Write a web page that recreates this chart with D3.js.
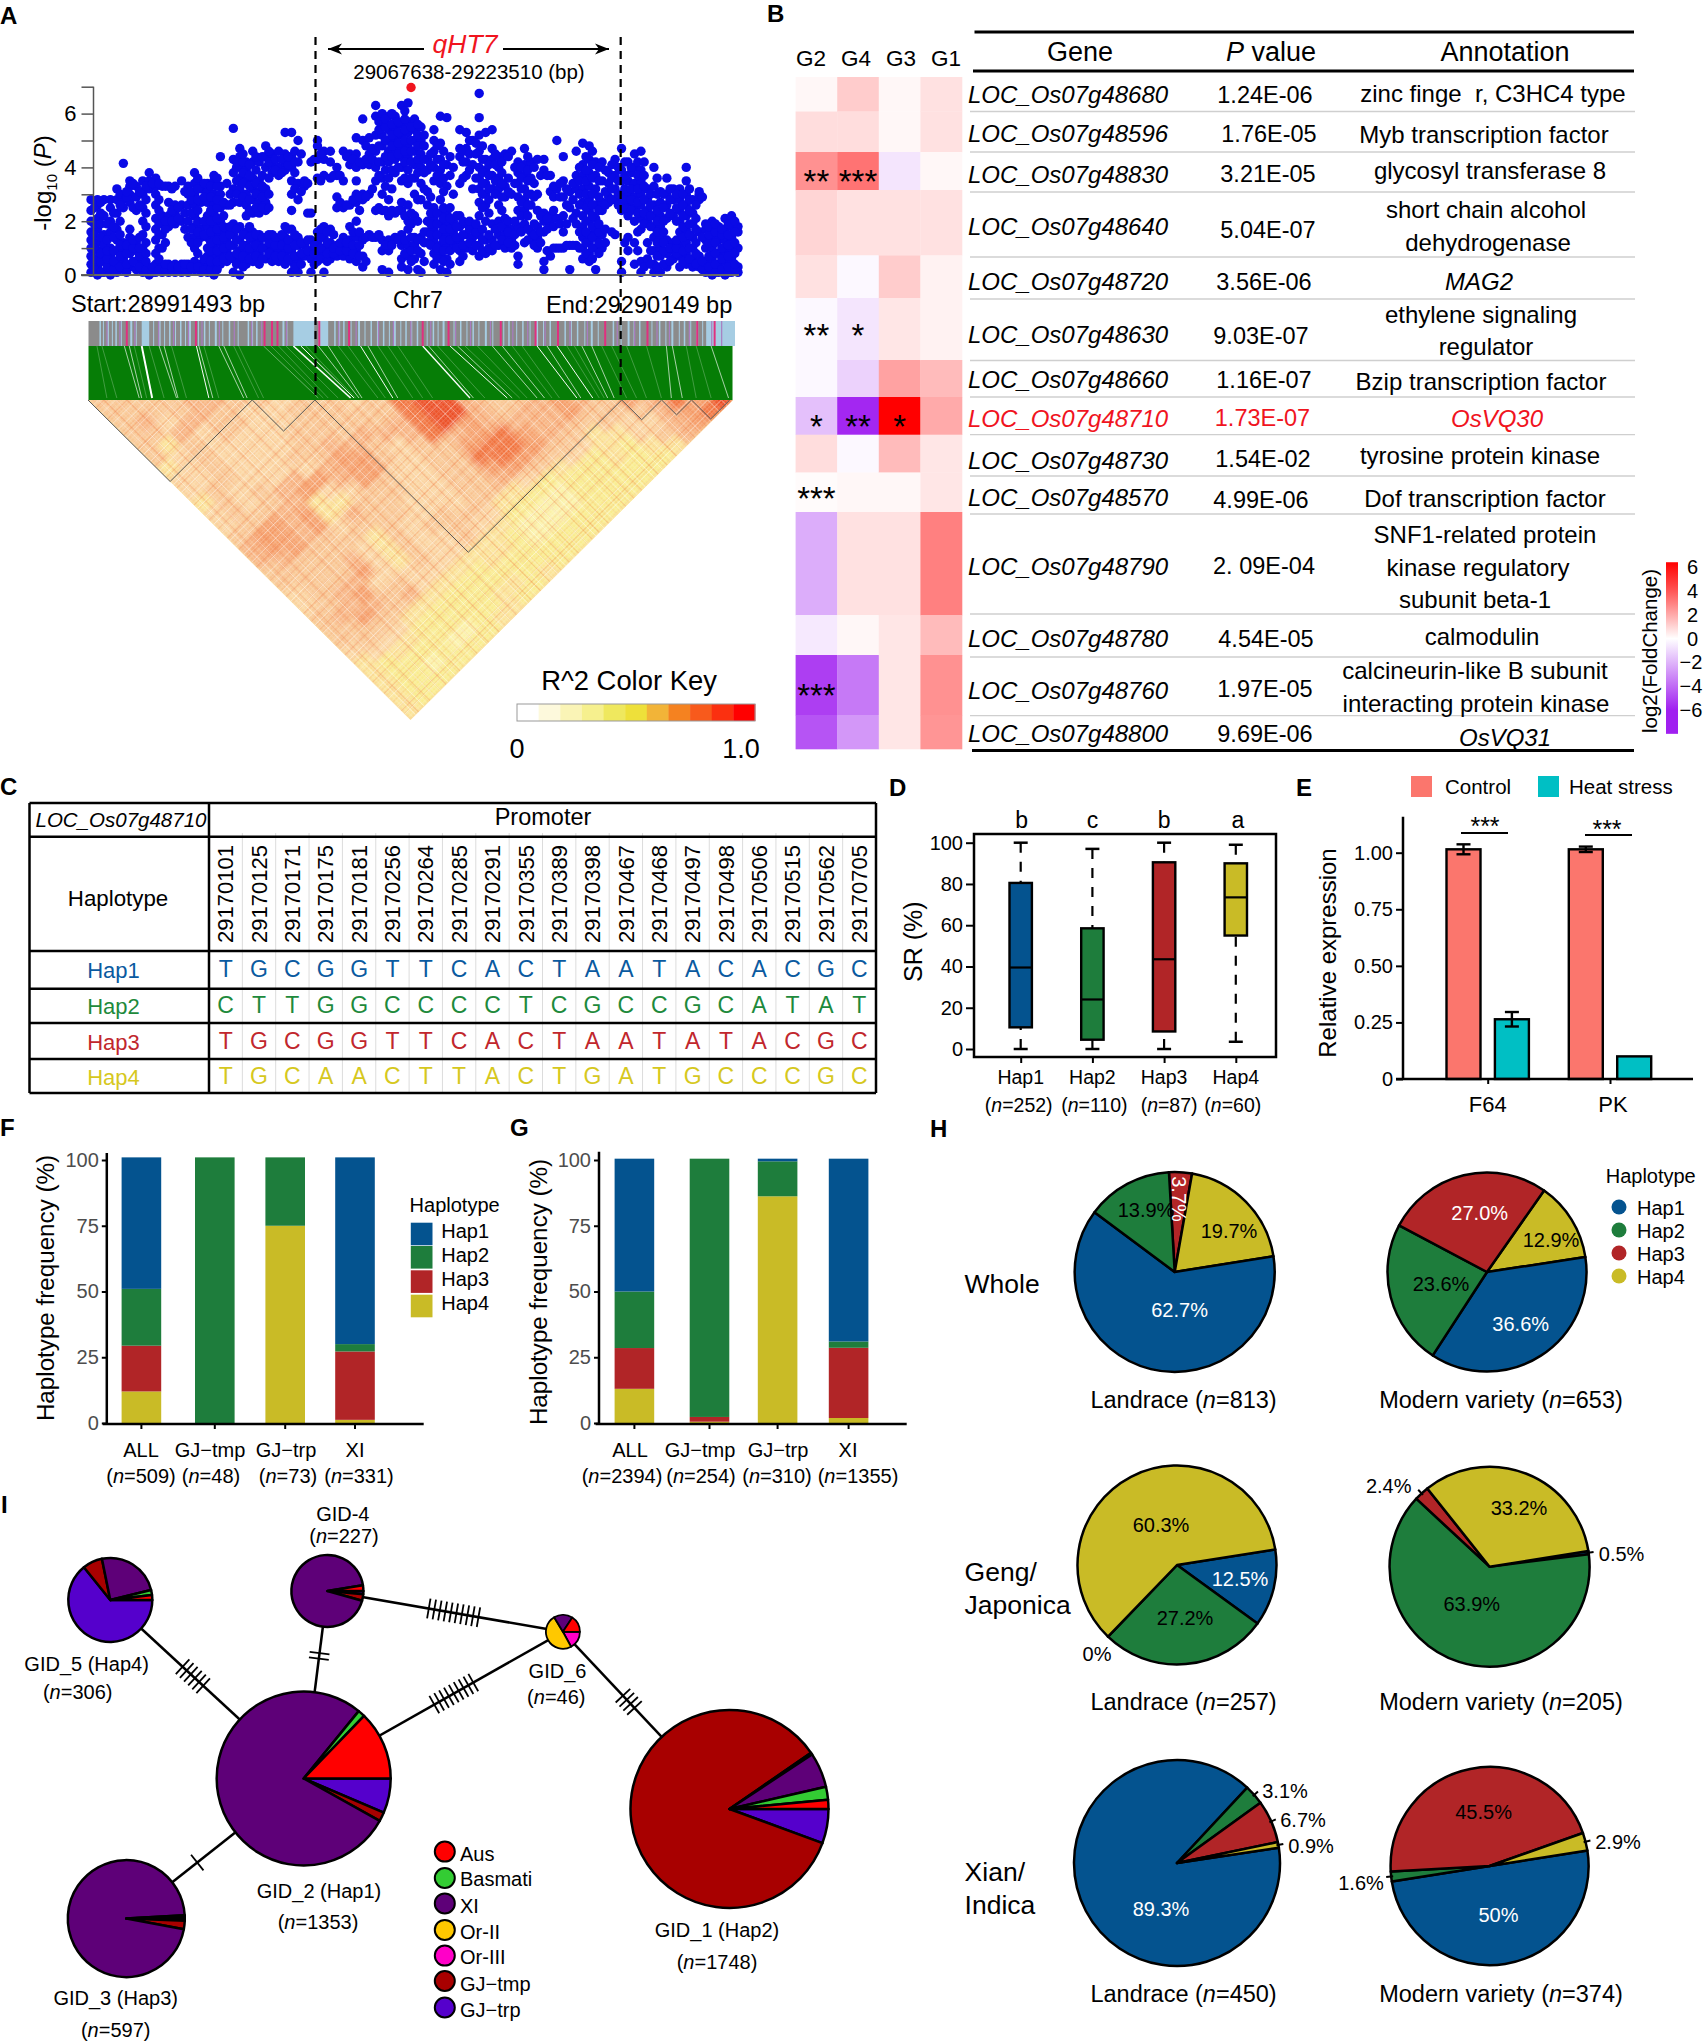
<!DOCTYPE html>
<html><head><meta charset="utf-8">
<script src="https://cdn.jsdelivr.net/npm/d3@7"></script>
<style>html,body{margin:0;padding:0;background:#fff}svg{display:block;font-family:"Liberation Sans",Arial,sans-serif}text{white-space:pre}</style>
</head><body><svg id="c" width="1705" height="2043" viewBox="0 0 1705 2043"></svg>
<script>
// ---------- DATA ----------
// A: association scan, -log10(P) read per 3 kb bin
const scanColumns=[[.1,.4,.7,1,1.3,1.6,2,2.4,2.8],[0,.3,.6,.9,1.2,1.7,2.1,2.6,2.8],[.1,.5,.8,1.1,1.5,2.2,2.8],[0,.4,.7,1,1.6,2,2.5,2.8],[.1,.5,.9,1.3,1.7,2.3,2.8,3.2],[.2,.6,.9,1.2,2.5,2.8,4.15],[.3,.8,1.1,1.4,1.7,2.7,3,3.3,3.5],[.2,.5,.9,1.2,2.4,2.9,3.3],[.1,.3,.6,1,1.5,2,2.5,3,3.1,3.5],[0,.2,3.2,3.5,3.8],[.1,.4,.8,1.3,1.7,2.1,2.6,3,3.3,3.6],[.1,.3,1,1.5,1.9,2.2,3.3],[.1,.4,1.8,2.2,2.7,3.3],[.1,.3,.4,1.9,2.3,2.6,3.3],[.1,.4,2,2.6,3.5],[.1,.4,1.4,2,2.6,3,3.3],[.2,.5,1,1.4,1.8,2.2,2.6,3,3.4,3.8],[.1,.4,1.4,1.7,2.7,3.2,3.3],[.1,.3,.7,1,1.4,1.8,2.2,2.7,3.1,3.4],[0,.3,.7,1.1,1.5,1.9,2.3,2.6,3,3.5,3.7],[.4,.8,1.2,1.6,2,2.5,3,3.3,4.4],[.5,.9,1.3,1.6,2.6,3.4],[.1,.6,1.1,1.5,1.9,2.7,3.2,3.8,4.3,5.45],[0,.5,.9,1.3,1.8,2.7,3.2,3.6,4,4.4,4.7],[.4,.8,1.1,1.6,2.2,2.6,3,3.5,3.9,4.2],[.5,.9,1.3,1.6,2.3,2.8,3.2,3.6,4.2,4.6],[.4,.8,1.2,1.5,2.3,2.7,3.1,3.5,4.2],[.6,1,1.4,2.4,2.7,3.2,4,4.4,4.8],[.5,.9,1.3,1.5,3.8,4.1,4.5],[.5,.9,1.3,3.7,4,4.6],[.4,.8,1.1,1.4,1.8,3.9,4.2,4.5,5.3],[.1,.5,.9,1.3,1.7,2.4,3,3.5,4,4.4,5.3],[.1,.6,1.1,1.4,2.8,3.4,4.2,5],[.7,1.1,3.3,3.5],[.1,.6,.9,1.3,2.3,4.2],[.5,.8,1.2,1.6,3.6,4.3,4.8,5],[.1,.7,1,1.4,1.8,3.7,4.3,4.6],[.6,.9,1.2,1.7,3.6,4.2,4.6],[.7,1,1.1,2.5,2.9,3.7,4],[.7,1.1,1.4,2.5,3.5,4.6],[.6,.9,1.3,1.8,2.6,4.1,4.5],[.5,.9,1.4,2,2.7,3,3.5,4,4.5,5.1],[.3,.7,1.3,2.8,3,4.1,5,5.8],[1.5,3,4.1,4.5,5.1],[1.4,2.4,3.5,4,4.6,5.2,5.9,6.3],[.2,.9,1.3,2.4,3,3.6,4.2,4.8,5.2,5.7,6],[.1,.9,1.3,2.2,2.8,3.6,4.2,4.6,5,5.4,5.9],[1.4,2.3,3.8,4.3,4.7,5.1,5.5,5.9],[.3,.6,1.1,1.5,2.4,2.7,3.5,4,4.4,4.8,5.2,5.6,6.3],[.2,.7,1.1,1.7,2,2.6,3.4,3.9,4.4,4.8,5.3,5.7,6.4],[.6,1.1,1.4,2.2,3,3.6,4.1,4.6,5,5.4,5.8],[.1,.8,1.4,2.8,3.4,4,4.5,5,5.5],[1.2,1.6,2,2.6,3.1,3.9,4.3],[.4,.8,1.3,1.7,2.1,2.5,3.5,4,4.6,5,5.4],[.2,.7,1.1,1.5,1.9,2.3,2.8,3.4,3.9,4.3,4.9,5.9],[.1,.6,1.1,1.5,1.9,2.3,3.3,4.1,5.85],[1.2,1.6,2,3,4],[.5,.9,1.3,1.8,2.2,3.4,4.4,4.7,5.4],[1,1.5,1.9,3.7,4.2,4.7,5.3],[.9,1.4,1.8,3.2,4.1,5],[.7,1.1,1.5,2.2,2.7,3.2,3.6,4,4.6,5.2,5.85,6.75],[.8,1.3,2,2.6,3,3.4,3.9,4.3,5.3],[.9,1.3,1.9,3.2,3.7,4.3,4.7,5.4],[1.1,1.5,2,2.6,3.2,3.6,4,4.4],[1,1.5,1.8,2.1,2.9,3.3,4.5],[1,1.3,1.7,3,4.6],[.4,.7,1.8,2.4,2.9,3.4,3.8,4.2],[1.2,1.9,2.4,2.8,3.2,3.7,4.1,4.7],[1.3,1.6,2.6,3,3.6,4.2],[1,1.4,1.8,2.4,3,4.3],[.2,.5,1.6,2,2.3,3.9,4.3],[.7,1.9,2.2,3.1,3.7],[1,2.1,3.2,5],[1,1.6,2.2,2.9,3.5,4.4],[.2,1.1,2.5,3.1],[1.1,1.9,2.3,3.2,3.7,4.6],[.6,1,1.4,1.8,2.2,2.7,3.2,3.7,4.1,4.9],[.5,.8,1.2,1.5,2,2.4,2.8,3.3,3.8,4.3,4.8],[.2,1,1.4,1.7,2.1,2.6,3.2,3.7,4.2],[1,1.5,2.4,2.7,3.5,4.2],[2.7,2.9,3.4,3.8],[1.5,2.8,3.2,3.7,4.3],[.1,.5,2.4,2.7,3,3.5,3.9,4.7],[.9,1.4,2.2,2.7,3,3.5,4.2],[.4,1.2,2,2.5,2.9,3.4,4,4.5],[.1,.5,1.7,2.1,2.6,3,3.5,3.9,4.6],[.6,1.2,2,2.4,2.8,3.2],[.1,.4,.9,1.4,1.8,2.2,2.6,3.3,4],[.1,.7,1,1.4,1.8,2.2,2.7,3.1],[.3,.8,1.3,2.1,2.6,3,3.6],[.6,.9,1.2,2.2,2.8,3.2],[.3,.7,1.1,1.6,2,2.4,2.8,3.2],[.4,.8,1.2,1.7,2.2,2.6,3,3.5,4],[.3,.6,1,1.4,1.9,2.3,2.8],[.3,.7,1.6,2.8,3,3.1],[.1,.5,1,1.3,1.7,1.9],[0,.2,.6,1,1.4,1.8,2],[.1,.4,.8,1.3,1.6,1.8],[0,.2,.5,.9,1.3,1.7,2.1],[.1,.3,.6,1,1.4,1.8,2.2],[.1,.3,1,1.6,1.8]];
// second reading, bins centred 1.5 kb later
const scanColumnsB=[[.2,.6,1,1.5,1.9,2.5],[.1,.5,.8,1.4,1.9,2.3,2.7],[.3,.6,.9,1.3,1.9],[.2,.5,.9,1.4,1.8,2.3],[.3,.7,1.1,1.5,2,2.6,3],[.1,.4,.8,1.1,2.9,3.1],[.5,1,1.3,2.5,3.4],[.3,.7,1,1.4,2.6,3.1],[.2,.5,.8,1.2,1.8,2.3,2.8,3.3],[.1,.3,3.4],[.2,.6,1,1.5,1.9,2.4,2.8,3.4],[.2,.4,1.2,1.7,2,3.3],[.2,.3,2,2.4,3.2],[.2,.3,2.1,2.5],[.2,.4,1.7,2.3,3.1],[.3,1.2,1.7,2.3,2.8,3.1],[.3,.8,1.2,1.6,2,2.4,2.8,3.2,3.6],[.2,.6,1.5,2,2.9,3.4],[.2,.5,.9,1.2,1.6,2,2.4,2.9,3.3],[.2,.5,.9,1.3,1.7,2.1,2.5,2.8,3.3,3.6],[.6,1,1.4,1.8,2.2,2.7],[.7,1.1,1.5,1.8,2.6,3],[.4,.8,1.3,1.7,3,3.5,4,4.2],[.3,.7,1.1,1.5,2.9,3.4,3.8,4.2,4.5],[.6,1,1.4,1.8,2.4,2.8,3.3,3.7,4.1],[.7,1.1,1.5,2.5,3,3.4,3.9,4.4],[.6,1,1.4,2.5,2.9,3.3,3.7,4.4],[.8,1.2,1.5,2.5,3,3.6,4.2,4.6],[.7,1.1,1.4,3.9,4.3],[.7,1.1,1.5,3.8,4.3],[.6,1,1.3,1.7,4.1,4.4],[.3,.7,1.1,1.5,3.2,3.8,4.2,4.6],[.4,.8,1.2,3.1,4.5],[.9,1.3,2.3,3.4],[.4,.8,1.1,4.3],[.6,1,1.4,1.7,3.5,4.5],[.5,.8,1.2,1.6],[.8,1,1.5,3.7],[.9,1.2,2.7,3.7],[.9,1.2,2.6,4.4],[.8,1.1,1.6,2.8,4.3],[.7,1.1,1.6,2.4,2.9,4.2],[.5,1.4,2.9,4.3,4.8],[1.4,3.2,4.3,4.7],[1.5,2.5,3.7,4.2,4.8,5.4,5.7],[1.1,2.4,3.3,3.9,4.4,5,5.5,5.8],[1.1,2.4,3.2,3.9,4.4,4.8,5.2,5.6,6],[1.3,2.4,4,4.5,4.9,5.3,5.7],[.8,1.3,2.2,3.6,4.2,4.6,5,5.4,5.8,6.1],[.5,.9,1.4,1.9,2.3,3.6,4.2,4.6,5,5.5],[.2,.9,1.3,2,2.8,3.8,4.3,4.8,5.2,5.6],[.5,1.2,1.6,3.2,3.8,4.3,4.8,5.2],[1.1,1.5,1.9,2.3,2.9,4.1,4.5],[.6,1,1.5,1.9,2.3,3.7,4.3,4.8],[.5,.9,1.3,1.7,2.1,2.5,3.1,3.6,4.1,4.6],[.4,.9,1.3,1.7,2.1,2.5,3.7,4.4],[1,1.4,1.8,2.2],[.7,1.1,1.5,2,3.6,4.2,4.6],[1.2,1.7,2,3.9,4.5,5],[1.1,1.6,1.9,3.6,4.5,4.9],[.9,1.3,1.7,2.5,3,3.4,3.8,4.3,4.8],[1,1.5,2.3,2.8,3.2,3.7,4.1],[1.1,1.7,3,3.5,4.1,4.5],[1.3,1.8,2.4,2.9,3.4,3.8,4.2],[1.2,1.6,2,3.1,3.6,4.4],[1.1,1.5,2,3.4,4],[1.6,2.2,2.7,3.2,3.6,4],[1.3,1.7,2.2,2.6,3,3.5,3.9,4.4],[1.1,1.5,1.9,2.9,3.4,4],[1.2,1.6,2.2,3.7],[.9,1.7,2.1,3.7],[1,1.8,2.4,2.9,3.3],[1,1.9,2.9,3.4],[1.1,1.9,2.6,3.2],[1.1,2.1,2.8,3.4],[1,1.6,2.6,3,3.5,4],[.8,1.2,1.6,2,2.5,3,3.5,3.9,4.4],[.6,1,1.4,1.8,2.2,2.6,3,3.6,4.1,4.6],[.8,1.2,1.6,1.9,2.4,2.9,3.5,4],[1.2,1.7,2.6,3.1,3.9],[1.6,2.8,3.2,3.6,4.1],[2.6,3,3.5,4],[1.2,2.5,2.8,3.2,3.7,4.2],[2.4,2.8,3.2,3.8,4],[.9,1.6,2.3,2.7,3.2,3.7,4.2],[.3,1.9,2.3,2.8,3.3,3.7,4.2],[.4,.9,1.8,2.2,2.6,3],[.3,.7,1.2,1.6,2,2.4,3,3.6],[.4,.9,1.2,1.6,2,2.5,3],[.5,1,2.3,2.8,3.2],[.8,1,1.3,2,2.5,3],[.5,.9,1.4,1.8,2.2,2.6,3],[.6,1,1.5,1.9,2.4,2.8,3.2],[.4,.8,1.2,1.7,2.1,2.6],[.2,.5,1.4,2.9],[.3,.7,1.2,1.5,1.8],[.1,.4,.8,1.2,1.6,1.9],[.2,.6,1,1.5,1.7],[.1,.3,.7,1.1,1.5,1.9],[.2,.4,.8,1.2,1.6,2]];
const scanBinKb=3;
const leadSnp={kb:148.4,logp:6.97};
const qtlBoundsKb=[104.1,245.6];
// A: SNP annotation band (band units along the chromosome window)
const bandBlue=[[285,300],[590,632],[640,660],[1420,1478],[200,203],[216,219],[232,235],[262,266],[320,323],[340,343],[362,365],[380,384],[410,413],[432,436],[460,463],[498,501],[515,518],[568,572],[672,675],[690,693],[720,724],[745,748],[770,773],[792,796],[815,818],[838,841],[870,873],[890,894],[925,928],[950,953],[975,979],[1022,1025],[1050,1053],[1078,1082],[1105,1108],[1135,1138],[1160,1163],[1188,1192],[1232,1235],[1262,1266],[1285,1288],[1325,1328],[1350,1354],[1375,1378],[1400,1404],[207,209],[225,227],[243,245],[273,275],[308,310],[330,332],[352,354],[372,374],[398,400],[420,422],[447,449],[478,480],[507,509],[576,578],[682,684],[705,707],[733,735],[758,760],[782,784],[805,807],[827,829],[858,860],[880,882],[912,914],[938,940],[962,964],[990,992],[1012,1014],[1038,1040],[1065,1067],[1092,1094],[1120,1122],[1148,1150],[1175,1177],[1202,1204],[1248,1250],[1274,1276],[1310,1312],[1338,1340],[1365,1367],[1388,1390],[1412,1414]];
const bandMauve=[214,240,270,318,348,378,405,440,470,505,525,575,680,715,760,790,825,865,915,945,985,1030,1060,1095,1145,1180,1240,1275,1320,1345,1385,1430,1450];
const bandPink=[253,392,530,545,556,640,700,848,900,1005,1075,1215,1300,1435,1120,1400];
const ldLinks=[[250,280,1],[260,285,1],[285,306,3],[320,355,1],[330,358,1],[395,420,1.5],[400,428,1],[440,490,1],[450,497,1],[530,640,.8],[590,705,2.5],[605,712,1.5],[640,722,1],[660,728,1],[725,790,1.5],[740,800,1],[850,945,2],[862,952,1],[905,1020,1.5],[920,1030,1],[990,1080,1],[1010,1095,1],[1080,1160,1.5],[1100,1168,1],[1120,1192,1.5],[1170,1222,1],[1190,1235,1],[1340,1350,1],[1352,1372,1],[1430,1465,1],[195,215,.5],[205,235,.5],[270,295,.5],[300,330,.5],[345,375,.5],[410,440,.5],[470,520,.5],[480,530,.5],[545,650,.5],[560,660,.5],[575,680,.5],[615,715,.5],[680,760,.5],[700,775,.5],[760,830,.5],[780,850,.5],[800,870,.5],[880,975,.5],[935,1045,.5],[960,1060,.5],[1030,1110,.5],[1050,1125,.5],[1140,1205,.5],[1155,1215,.5],[1210,1260,.5],[1230,1280,.5],[1260,1300,.5],[1300,1330,.5],[1380,1400,.5],[1400,1430,.5]];
// A: LD matrix, one string per distance between SNP bins (digit = R^2 class)
const ldRows=["5555665545545899655676576879","555565445555589965667555678","56465544555568976666554467","5564544555666867876533456","535444456654557887543233","54544455775455887542322","3454444677445577532222","445446767544556422222","45456744554455321222","3545633554445321122","455673655455421122","45767455455431122","5776553544532122","677554354433222","66556435433222","5555744432223","555645432232","45675632232","4566532223","567532223","55542212","5543212","443222","32212","3222","322","32","3"];
const ldLightSnps=[.45,1.2,2.1,2.6,3.3,3.9,4.4,4.8,5.4,6.2,6.6,7.4,8.1,8.7,9.5,10.2,10.9,11.6,12.3,12.8,13.5,14.2,14.9,15.4,16.1,16.8,17.6,18.3,19.1,19.7,20.4,21.2,21.9,22.7,23.6,24.3,25.2,26.1,26.9,27.5];
const ldDarkSnps=[.7,1.7,3.1,4.3,5.8,6.8,7.7,9.2,10.5,11.3,12.1,13.1,13.8,14.6,15.8,16.4,17.2,18.7,19.4,20.1,21.5,22.3,23.1,24.7,25.7,27.2];
const ldBlocks=[[0,7.13],[7.13,9.85],[9.85,23.17],[23.17,24.9],[24.9,26.2],[26.2,27.86]];
const r2KeyColors=["#ffffff","#fdf9dc","#faf4b6","#f6f08e","#efe85e","#eee03a","#f2b438","#f58220","#f85a1c","#fb3010","#ff0000"];
// B: expression table
const heatGroups=["G2","G4","G3","G1"];
const genes=["LOC_Os07g48680","LOC_Os07g48596","LOC_Os07g48830","LOC_Os07g48640","LOC_Os07g48720","LOC_Os07g48630","LOC_Os07g48660","LOC_Os07g48710","LOC_Os07g48730","LOC_Os07g48570","LOC_Os07g48790","LOC_Os07g48780","LOC_Os07g48760","LOC_Os07g48800"];
const pValues=["1.24E-06","1.76E-05","3.21E-05","5.04E-07","3.56E-06","9.03E-07","1.16E-07","1.73E-07","1.54E-02","4.99E-06","2. 09E-04","4.54E-05","1.97E-05","9.69E-06"];
const heatG2=[.2,.8,2.6,1,.7,-.2,-.2,-1.7,.8,.1,-2.2,-.6,-5.2,-4.6];
const heatG4=[1.2,.8,3.3,.7,-.2,-.7,-1.2,-5.8,-.2,.2,.7,.2,-3.6,-2.8];
const heatG3=[.2,.2,-.7,.7,1.2,.6,2.2,6,1.6,.2,.7,.6,.6,.6];
const heatG1=[.7,.7,.2,.7,.3,.3,1.6,2,.6,.6,3,1.6,2.6,2.5];
const heatStars=[["","","",""],["","","",""],["**","***","",""],["","","",""],["","","",""],["**","*","",""],["","","",""],["*","**","*",""],["","","",""],["***","","",""],["","","",""],["","","",""],["***","","",""],["","","",""]];
const annotations=[["zinc finge  r, C3HC4 type"],["Myb transcription factor"],["glycosyl transferase 8"],["short chain alcohol","dehydrogenase"],["MAG2"],["ethylene signaling","regulator"],["Bzip transcription factor"],["OsVQ30"],["tyrosine protein kinase"],["Dof transcription factor"],["SNF1-related protein","kinase regulatory","subunit beta-1"],["calmodulin"],["calcineurin-like B subunit","interacting protein kinase"],["OsVQ31"]];
const fcTicks=[6,4,2,0,-2,-4,-6];
// C: haplotype table
const snpPositions=["29170101","29170125","29170171","29170175","29170181","29170256","29170264","29170285","29170291","29170355","29170389","29170398","29170467","29170468","29170497","29170498","29170506","29170515","29170562","29170705"];
const haplotypes=["Hap1","Hap2","Hap3","Hap4"];
const hapSeq1="TGCGGTTCACTAATACACGC",hapSeq2="CTTGGCCCCTCGCCGCATAT",hapSeq3="TGCGGTTCACTAATATACGC",hapSeq4="TGCAACTTACTGATGCCCGC";
// D: seed-setting boxplot
const boxLow=[0,0,0,3.5],boxQ1=[10.5,4.5,8.5,55],boxMedian=[39.5,24,43.5,73.5],boxQ3=[80.5,58.5,90.5,90],boxHigh=[100,97,100,99];
const boxSig=["b","c","b","a"],boxN=[252,110,87,60];
// E: relative expression
const exprGroups=["F64","PK"],exprControl=[1.015,1.015],exprHeat=[.264,.1],exprControlErr=[.022,.012],exprHeatErr=[.032,0];
// F, G: frequency stacks, bottom to top Hap4, Hap3, Hap2, Hap1
const freqCats=["ALL","GJ\u2212tmp","GJ\u2212trp","XI"];
const freqFn=[509,48,73,331],freqGn=[2394,254,310,1355];
const fHap4=[12,0,75,1.2],fHap3=[17.4,0,0,26],fHap2=[21.6,101,26,2.8],fHap1=[50,0,0,71];
const gHap4=[13,.5,86.2,1.9],gHap3=[15.5,1.8,0,26.7],gHap2=[21.5,98.2,13.3,2.4],gHap1=[50.5,0,1,69.5];
// H: pies
const pieWholeL=[[3,3.7],[4,19.7],[1,62.7],[2,13.9]],pieWholeM=[[4,12.9],[1,36.6],[2,23.6],[3,27.0]];
const pieGengL=[[1,12.5],[2,27.2],[3,0],[4,60.3]],pieGengM=[[1,.5],[2,63.9],[3,2.4],[4,33.2]];
const pieXianL=[[1,89.3],[2,3.1],[3,6.7],[4,.9]],pieXianM=[[1,50],[2,1.6],[3,45.5],[4,2.9]];
// I: haplotype network
const popNames=["Aus","Basmati","XI","Or-II","Or-III","GJ\u2212tmp","GJ\u2212trp"];
const gid1=[["GJ\u2212trp",5.6],["GJ\u2212tmp",84.8],["Or-II",.3],["XI",5.7],["Basmati",2.1],["Aus",1.5]];
const gid2=[["GJ\u2212trp",6.4],["GJ\u2212tmp",1.7],["XI",77.8],["Basmati",1.3],["Aus",12.8]];
const gid3=[["GJ\u2212trp",.6],["GJ\u2212tmp",2.3],["XI",96.2],["Basmati",.4],["Aus",.5]];
const gid4=[["GJ\u2212trp",1.4],["GJ\u2212tmp",3],["XI",93],["Aus",2.6]];
const gid5=[["GJ\u2212trp",64.2],["GJ\u2212tmp",7.6],["XI",24.4],["Basmati",1.9],["Aus",1.9]];
const gid6=[["Or-III",17],["Or-II",49.4],["XI",17.9],["Aus",15.7]];
const networkEdges=[["GID_5","GID_2",6],["GID-4","GID_2",2],["GID-4","GID_6",10],["GID_2","GID_6",9],["GID_6","GID_1",4],["GID_2","GID_3",1]];

// ---------- HELPERS ----------
const svg=d3.select("#c");
const defs=svg.append("defs");
const BLUE="#04538f",GREEN="#1e7d3c",RED="#b12527",YEL="#c9bb26";
const hapColor=d3.scaleOrdinal(haplotypes,[BLUE,GREEN,RED,YEL]);
const rad=a=>a*Math.PI/180;
function T(x,y,s,o={}){
  const t=svg.append("text").attr("x",x).attr("y",y).attr("font-size",o.size||20).attr("fill",o.fill||"#000").attr("text-anchor",o.anchor||"middle");
  if(o.weight)t.attr("font-weight",o.weight);
  if(o.italic)t.attr("font-style","italic");
  if(o.rotate!=null)t.attr("transform",`rotate(${o.rotate} ${x} ${y})`);
  if(Array.isArray(s)){s.forEach(p=>{const ts=t.append("tspan").text(p[0]);if(p[1])ts.attr("font-style","italic");});}else t.text(s);
  return t;
}
const nLab=(n,pre="")=>[[pre+"("],["n",1],["="+n+")"]];
function styleAxis(g,size,col,w=2.5){
  g.selectAll("path.domain").attr("stroke","#000").attr("stroke-width",w);
  g.selectAll(".tick line").attr("stroke","#000").attr("stroke-width",w>2?2:w);
  g.selectAll("text").attr("font-size",size).attr("fill",col||"#000").attr("font-family",'"Liberation Sans",Arial,sans-serif');
}
[["A",0,24],["B",767,22],["C",0,795],["D",889,796],["E",1296,796],["F",0,1136],["G",510,1136],["H",930,1137],["I",1,1513]].forEach(d=>T(d[1],d[2],d[0],{size:24,weight:"bold",anchor:"start"}));

// ---------- A ----------
const scanX=d3.scaleLinear([0,300],[91,738]);
const scanY=d3.scaleLinear([0,7],[275,86.7]);
const band=d3.scaleLinear([178,1478],[88.5,735]);
const ldX=d3.scaleLinear([0,28],[88,733]),ldY=d3.scaleLinear([0,28],[400,720]);
const ldPt=(i,j)=>[ldX((i+j)/2),ldY(j-i)];
// LD triangle
const ldColor=d3.scaleLinear(d3.range(10),["#fff8d0","#fbf2a8","#f9ec8e","#fbe498","#fbd6a2","#f9c894","#f8b684","#f6a06c","#f2743f","#ec4a20"]);
defs.append("filter").attr("id","ldblur").attr("x","-5%").attr("y","-5%").attr("width","110%").attr("height","110%").append("feGaussianBlur").attr("stdDeviation",2.5);
const tex1=defs.append("pattern").attr("id","ldTex1").attr("patternUnits","userSpaceOnUse").attr("width",3.3).attr("height",3.3).attr("patternTransform","rotate(45)");
tex1.append("path").attr("d","M0,.6H3.3M.6,0V3.3").attr("stroke","#fff").attr("stroke-opacity",.22).attr("stroke-width",.9);
const tex2=defs.append("pattern").attr("id","ldTex2").attr("patternUnits","userSpaceOnUse").attr("width",8.3).attr("height",8.3).attr("patternTransform","rotate(45)");
tex2.append("path").attr("d","M0,2H8.3M2,0V8.3").attr("stroke","#ef7a40").attr("stroke-opacity",.18).attr("stroke-width",1);
const ldTri=[ldPt(0,0),ldPt(28,28),ldPt(0,28)].join(" ");
svg.append("polygon").attr("points",ldTri).attr("fill","#fbe29c");
defs.append("clipPath").attr("id","ldclip").append("polygon").attr("points",ldTri);
const ldOuter=svg.append("g").attr("clip-path","url(#ldclip)");
const ldG=ldOuter.append("g").attr("filter","url(#ldblur)");
ldRows.forEach((row,d)=>{row.split("").forEach((v,k)=>{
  const i=k,j=k+d;
  const pts=[ldPt(i,j),ldPt(i+1,j),ldPt(i+1,j+1),ldPt(i,j+1)];
  ldG.append("polygon").attr("points",pts.join(" ")).attr("fill",ldColor(+v)).attr("stroke",ldColor(+v)).attr("stroke-width",.6);
});});
const ldLine=d3.line();
ldOuter.append("polygon").attr("points",ldTri).attr("fill","url(#ldTex2)");
ldOuter.append("polygon").attr("points",ldTri).attr("fill","url(#ldTex1)");
ldDarkSnps.forEach(p=>{
  ldOuter.append("path").attr("d",ldLine([ldPt(p,p),ldPt(p,28)])).attr("stroke","#f0703a").attr("stroke-opacity",.25).attr("stroke-width",1.1).attr("fill","none");
  ldOuter.append("path").attr("d",ldLine([ldPt(0,p),ldPt(p,p)])).attr("stroke","#f0703a").attr("stroke-opacity",.25).attr("stroke-width",1.1).attr("fill","none");
});
ldLightSnps.forEach(p=>{
  ldOuter.append("path").attr("d",ldLine([ldPt(p,p),ldPt(p,28)])).attr("stroke","#fff").attr("stroke-opacity",.4).attr("stroke-width",1).attr("fill","none");
  ldOuter.append("path").attr("d",ldLine([ldPt(0,p),ldPt(p,p)])).attr("stroke","#fff").attr("stroke-opacity",.4).attr("stroke-width",1).attr("fill","none");
});
ldBlocks.forEach(b=>svg.append("path").attr("d",ldLine([ldPt(b[0],b[0]),ldPt(b[0],b[1]),ldPt(b[1],b[1])])).attr("fill","none").attr("stroke","#555").attr("stroke-width",1));
// green band
svg.append("rect").attr("x",band(178)).attr("y",346).attr("width",band(1473)-band(178)).attr("height",54).attr("fill","#067d06");
ldLinks.forEach(l=>svg.append("line").attr("x1",band(l[0])).attr("x2",band(l[1])).attr("y1",346).attr("y2",398).attr("stroke","#fff").attr("stroke-opacity",l[2]<1?.75:1).attr("stroke-width",l[2]*.65));
// SNP band
svg.append("rect").attr("x",band(178)).attr("y",321).attr("width",band(1478)-band(178)).attr("height",25).attr("fill","#8b8b8b");
bandBlue.forEach(b=>svg.append("rect").attr("x",band(b[0])).attr("y",321).attr("width",band(b[1])-band(b[0])).attr("height",25).attr("fill","#a6cde3"));
bandMauve.forEach(b=>svg.append("rect").attr("x",band(b)).attr("y",321).attr("width",1.2).attr("height",25).attr("fill","#a87cc0"));
bandPink.forEach(b=>svg.append("rect").attr("x",band(b)).attr("y",321).attr("width",2).attr("height",25).attr("fill","#e0307f"));
// scan points
const scanPts=[];
scanColumns.forEach((c,i)=>c.forEach(v=>scanPts.push([i*scanBinKb,v])));
scanColumnsB.forEach((c,i)=>c.forEach(v=>scanPts.push([(i+.5)*scanBinKb,v])));
svg.append("g").selectAll("circle").data(scanPts).join("circle").attr("cx",d=>scanX(d[0])).attr("cy",d=>scanY(d[1])).attr("r",4.7).attr("fill","#0a0ae6");
svg.append("line").attr("x1",81).attr("x2",739).attr("y1",scanY(0)).attr("y2",scanY(0)).attr("stroke","#666").attr("stroke-width",2);
svg.append("circle").attr("cx",scanX(leadSnp.kb)).attr("cy",scanY(leadSnp.logp)).attr("r",4.7).attr("fill","#f0141e");
const ax=svg.append("g").attr("transform","translate(93.5,0)").call(d3.axisLeft(scanY).tickValues(d3.range(0,8)).tickSize(12).tickFormat(d=>d%2?"":d));
styleAxis(ax,22);ax.selectAll("path.domain").attr("stroke","#555").attr("stroke-width",1.5).attr("d","M0,86.7V275");ax.selectAll(".tick line").attr("stroke","#555").attr("stroke-width",1.5);ax.selectAll("text").attr("dx",-2);
{const t=T(51,183,"",{size:24,rotate:-90});t.append("tspan").text("-log");t.append("tspan").text("10").attr("font-size",15).attr("dy",6);t.append("tspan").text(" (").attr("dy",-6);t.append("tspan").text("P").attr("font-style","italic");t.append("tspan").text(")");}
qtlBoundsKb.forEach(b=>svg.append("line").attr("x1",scanX(b)).attr("x2",scanX(b)).attr("y1",37).attr("y2",397).attr("stroke","#000").attr("stroke-width",2.2).attr("stroke-dasharray","8 6"));
T(465,53,"qHT7",{size:26.5,italic:true,fill:"#f0141e"});
T(469,79,"29067638-29223510 (bp)",{size:20.5});
[[424,328],[503,609]].forEach(a=>{svg.append("line").attr("x1",a[0]).attr("x2",a[1]).attr("y1",49).attr("y2",49).attr("stroke","#000").attr("stroke-width",2.2);
  const s=a[1]<a[0]?1:-1;svg.append("path").attr("d",`M${a[1]},49L${a[1]+s*14},43.5L${a[1]+s*10},49L${a[1]+s*14},54.5Z`).attr("fill","#000");});
T(71,312,"Start:28991493 bp",{size:23.6,anchor:"start"});
T(418,308,"Chr7",{size:23});
T(546,313,"End:29290149 bp",{size:23.6,anchor:"start"});
T(629,690,"R^2 Color Key",{size:27.4});
const keyX=d3.scaleBand(d3.range(r2KeyColors.length),[517,755]);
svg.append("g").selectAll("rect").data(r2KeyColors).join("rect").attr("x",(d,i)=>keyX(i)).attr("y",704).attr("width",keyX.bandwidth()+.4).attr("height",17).attr("fill",d=>d);
svg.append("rect").attr("x",517).attr("y",704).attr("width",238).attr("height",17).attr("fill","none").attr("stroke","#999").attr("stroke-width",1);
T(517,758,"0",{size:27});T(741,758,"1.0",{size:27});

// ---------- B ----------
const heatEdges=[77,111.5,152,190,255.4,298,360,397,434.7,472.5,512,615,655,715,749];
const heatX=d3.scaleBand(heatGroups,[795.6,962]);
const fcColor=d3.scaleLinear([-6,0,6],["#a020f0","#ffffff","#ff0000"]).clamp(true);
const heatVals=[heatG2,heatG4,heatG3,heatG1];
heatVals.forEach((vals,c)=>vals.forEach((v,r)=>{
  svg.append("rect").attr("x",heatX(heatGroups[c])).attr("y",heatEdges[r]).attr("width",heatX.bandwidth()+.3).attr("height",heatEdges[r+1]-heatEdges[r]+.3).attr("fill",fcColor(v));
  const st=heatStars[r][c];
  if(st)T(heatX(heatGroups[c])+heatX.bandwidth()/2,(heatEdges[r]+heatEdges[r+1])/2+(r==5||r==9?18:22),st,{size:33});
}));
[811,856,901,946].forEach((x,i)=>T(x,66,heatGroups[i],{size:22.5}));
[[32,974.5,3],[71,973,3],[750.5,972,3]].forEach(l=>svg.append("line").attr("x1",l[1]).attr("x2",1634).attr("y1",l[0]).attr("y2",l[0]).attr("stroke","#000").attr("stroke-width",l[2]));
[111.5,152,192,257,299,360.5,397,434.7,476,514,614,657,715.6].forEach(y=>svg.append("line").attr("x1",970).attr("x2",1635).attr("y1",y).attr("y2",y).attr("stroke","#cfcfcf").attr("stroke-width",1.3));
T(1080,61,"Gene",{size:27});T(1271,61,[["P",1],[" value"]],{size:27});T(1505,61,"Annotation",{size:27});
const geneY=[103,142,183,235,290,343,388,427,469,506,575,647,699,742];
const pX=[1265,1269,1268,1268,1264,1261,1264,1262.5,1263,1261,1264,1266,1265,1265],pY=[103,141.5,182,238,290,344,388,426,467,508,574,647,697,742];
const annX=[[1493],[1484],[1490],[1486,1488],[1479],[1481,1486],[1481],[1497],[1480],[1485],[1485,1478,1475],[1482],[1475,1476],[1505]];
const annY=[[102],[143],[179],[218,250.5],[290],[323,355],[389.5],[427],[464],[507],[543,575.6,608],[645],[679,712],[745.6]];
genes.forEach((g,i)=>{
  const red=i==7?"#f0141e":"#000";
  T(968,geneY[i],g,{size:24,italic:true,anchor:"start",fill:red});
  T(pX[i],pY[i],pValues[i],{size:23.5,fill:red});
  annotations[i].forEach((a,k)=>T(annX[i][k],annY[i][k],a,{size:24,fill:red,italic:/^(MAG2|OsVQ)/.test(a)}));
});
const fcY=d3.scaleLinear([-6,6],[710,567]);
const grad=defs.append("linearGradient").attr("id","fcg").attr("x1",0).attr("x2",0).attr("y1",1).attr("y2",0);
[-8,-6,-4,-2,0,2,4,6.4].forEach(v=>grad.append("stop").attr("offset",(v+8)/14.4).attr("stop-color",v<-6?"#a020f0":fcColor(v)));
svg.append("rect").attr("x",1666).attr("y",fcY(6.4)).attr("width",12).attr("height",fcY(-8)-fcY(6.4)).attr("fill","url(#fcg)");
fcTicks.forEach(v=>T(1687,fcY(v)+7,(v<0?"\u2212"+(-v):""+v),{size:20,anchor:v<0?"middle":"start"}).attr("x",v<0?1691:1687));
T(1657,651,"log2(FoldChange)",{size:20.5,rotate:-90});

// ---------- C ----------
const cX=d3.scaleBand(snpPositions,[209,876]);
snpPositions.forEach((p,i)=>{
  if(i)svg.append("line").attr("x1",cX(p)).attr("x2",cX(p)).attr("y1",833).attr("y2",1093).attr("stroke","#dcdcdc").attr("stroke-width",1);
  T(cX(p)+cX.bandwidth()/2+7.7,943,p,{size:22,anchor:"start",rotate:-90});
});
[[803],[836.7],[951],[988.7],[1023],[1059],[1093]].forEach(l=>svg.append("line").attr("x1",29.5).attr("x2",876).attr("y1",l[0]).attr("y2",l[0]).attr("stroke","#000").attr("stroke-width",2.5));
[29.5,209,876].forEach(x=>svg.append("line").attr("x1",x).attr("x2",x).attr("y1",803).attr("y2",1093).attr("stroke","#000").attr("stroke-width",2.5));
T(121,826.7,"LOC_Os07g48710",{size:20.5,italic:true});T(543,825,"Promoter",{size:23.5});T(118,905.7,"Haplotype",{size:22.3});
const hapTextColor={Hap1:"#0a5aa0",Hap2:"#1e8a3c",Hap3:"#c1272d",Hap4:"#d6c81e"};
const hapBase=[978,1014,1050,1085];
[hapSeq1,hapSeq2,hapSeq3,hapSeq4].forEach((s,r)=>{
  T(113.5,hapBase[r],haplotypes[r],{size:22,fill:hapTextColor[haplotypes[r]]});
  s.split("").forEach((ch,i)=>T(cX(snpPositions[i])+cX.bandwidth()/2,hapBase[r]-1,ch,{size:23,fill:hapTextColor[haplotypes[r]]}));
});

// ---------- D ----------
const dX=d3.scalePoint(haplotypes,[1020.7,1235.8]),dY=d3.scaleLinear([0,100],[1049,842.7]);
const dAxisL=svg.append("g").attr("transform","translate(974,0)").call(d3.axisLeft(dY).tickValues([0,20,40,60,80,100]).tickSize(8));
styleAxis(dAxisL,20);dAxisL.selectAll("path.domain").remove();
const dAxisB=svg.append("g").attr("transform","translate(0,1057)").call(d3.axisBottom(dX).tickSize(6).tickFormat(""));
styleAxis(dAxisB,20);dAxisB.selectAll("path.domain").remove();
svg.append("rect").attr("x",974).attr("y",834).attr("width",302).attr("height",223).attr("fill","none").attr("stroke","#000").attr("stroke-width",2.5);
haplotypes.forEach((h,i)=>{
  const x=dX(h),w=22.4;
  [[boxQ3[i],boxHigh[i]],[boxQ1[i],boxLow[i]]].forEach(s=>{
    svg.append("line").attr("x1",x).attr("x2",x).attr("y1",dY(s[1])).attr("y2",dY(s[0])).attr("stroke","#000").attr("stroke-width",2.2).attr("stroke-dasharray","10 9");
    svg.append("line").attr("x1",x-7).attr("x2",x+7).attr("y1",dY(s[1])).attr("y2",dY(s[1])).attr("stroke","#000").attr("stroke-width",2.5);
  });
  svg.append("rect").attr("x",x-w/2).attr("y",dY(boxQ3[i])).attr("width",w).attr("height",dY(boxQ1[i])-dY(boxQ3[i])).attr("fill",hapColor(h)).attr("stroke","#000").attr("stroke-width",2.4);
  svg.append("line").attr("x1",x-w/2).attr("x2",x+w/2).attr("y1",dY(boxMedian[i])).attr("y2",dY(boxMedian[i])).attr("stroke","#000").attr("stroke-width",2.2);
  T(x+[1,0,0,2][i],828,boxSig[i],{size:23});
  T(x,1084,h,{size:19.5});
  T(x+[-2,2,5,-3][i],1112,nLab(boxN[i]),{size:19.5});
});
T(922,941.7,"SR (%)",{size:25,rotate:-90});

// ---------- E ----------
const eX=d3.scalePoint(exprGroups,[1487.7,1610]),eY=d3.scaleLinear([0,1],[1079,852.7]);
const subOff={c:-24.2,h:24.2},eW=34;
exprGroups.forEach((g,i)=>{
  [["c",exprControl[i],exprControlErr[i],"#fb766d"],["h",exprHeat[i],exprHeatErr[i],"#00bfc4"]].forEach(b=>{
    const x=eX(g)+subOff[b[0]];
    svg.append("rect").attr("x",x-eW/2).attr("y",eY(b[1])).attr("width",eW).attr("height",eY(0)-eY(b[1])).attr("fill",b[3]).attr("stroke","#000").attr("stroke-width",2.4);
    if(b[2]){
      const hi=eY(b[1]+b[2]),lo=eY(b[1]-b[2]);
      svg.append("line").attr("x1",x).attr("x2",x).attr("y1",hi).attr("y2",lo).attr("stroke","#000").attr("stroke-width",2.4);
      [hi,lo].forEach(y=>svg.append("line").attr("x1",x-7).attr("x2",x+7).attr("y1",y).attr("y2",y).attr("stroke","#000").attr("stroke-width",2.4));
    }
  });
});
const eAxisL=svg.append("g").attr("transform","translate(1403,0)").call(d3.axisLeft(eY).tickValues([0,.25,.5,.75,1]).tickSize(7).tickFormat(d=>d?d3.format(".2f")(d):"0"));
styleAxis(eAxisL,20);eAxisL.selectAll("path.domain").attr("d","M0,816.7V1079");
const eAxisB=svg.append("g").attr("transform","translate(0,1079)").call(d3.axisBottom(eX).tickSize(5).tickFormat(""));
styleAxis(eAxisB,20);eAxisB.selectAll("path.domain").attr("d","M1396,0H1693");
T(1487.7,1112,"F64",{size:22});T(1613,1112,"PK",{size:22});
T(1336,953,"Relative expression",{size:24,rotate:-90});
[[1461,1508,833,1485,835],[1585,1632,835,1607,838]].forEach(b=>{svg.append("line").attr("x1",b[0]).attr("x2",b[1]).attr("y1",b[2]).attr("y2",b[2]).attr("stroke","#000").attr("stroke-width",2.2);T(b[3],b[4],"***",{size:25});});
[[1411,"#fb766d",1445,"Control"],[1538,"#00bfc4",1569,"Heat stress"]].forEach(l=>{svg.append("rect").attr("x",l[0]).attr("y",776).attr("width",21).attr("height",21).attr("fill",l[1]);T(l[2],794,l[3],{size:20.5,anchor:"start"});});

// ---------- F, G ----------
function stackPanel(o){
  const x=d3.scalePoint(freqCats,o.xr),y=d3.scaleLinear([0,100],[1423,1160]);
  const rows=freqCats.map((c,i)=>({cat:c,Hap4:o.v[0][i],Hap3:o.v[1][i],Hap2:o.v[2][i],Hap1:o.v[3][i]}));
  const series=d3.stack().keys(["Hap4","Hap3","Hap2","Hap1"])(rows);
  svg.append("g").selectAll("g").data(series).join("g").attr("fill",s=>hapColor(s.key)).selectAll("rect").data(s=>s).join("rect")
    .attr("x",d=>o.barX[freqCats.indexOf(d.data.cat)]-19.8).attr("width",39.6).attr("y",d=>y(d[1])).attr("height",d=>Math.max(0,y(d[0])-y(d[1])));
  const l=svg.append("g").attr("transform",`translate(${o.ax},0)`).call(d3.axisLeft(y).tickValues([0,25,50,75,100]).tickSize(5));
  styleAxis(l,20,"#4d4d4d");l.selectAll("path.domain").attr("d",`M0,${o.top}V1424`);
  const b=svg.append("g").attr("transform","translate(0,1424)").call(d3.axisBottom(x).tickSize(5).tickFormat(""));
  styleAxis(b,20);b.selectAll("path.domain").attr("d",`M${o.xa[0]},0H${o.xa[1]}`);
  b.selectAll(".tick").attr("transform",(d,i)=>`translate(${o.barX[i]},0)`);
  T(o.title,o.titleY,"Haplotype frequency (%)",{size:24.2,rotate:-90});
  freqCats.forEach((c,i)=>{T(o.lx[i],1457,c,{size:20});T(o.nx[i],1482.5,nLab(o.n[i]),{size:20});});
}
stackPanel({xr:[141.4,355],barX:[141.4,214.8,285.2,355],v:[fHap4,fHap3,fHap2,fHap1],ax:106.8,top:1153,xa:[102.7,423.7],title:54,titleY:1288,lx:[141,210,286,355],nx:[141,211,288,359],n:freqFn});
stackPanel({xr:[634.4,848.6],barX:[634.4,709.5,777.6,848.6],v:[gHap4,gHap3,gHap2,gHap1],ax:599,top:1151.7,xa:[595.6,906.7],title:547,titleY:1292,lx:[630,700,778,848],nx:[622,701,777,858],n:freqGn});
T(409.6,1212,"Haplotype",{size:20,anchor:"start"});
[[1222.7,1237.7],[1246,1261.7],[1270.3,1286],[1294.7,1310]].forEach((d,i)=>{svg.append("rect").attr("x",410.8).attr("y",d[0]).attr("width",21.7).attr("height",22.6).attr("fill",hapColor(haplotypes[i]));T(441.3,d[1],haplotypes[i],{size:20,anchor:"start"});});

// ---------- H ----------
function drawPie(cx,cy,r,slices,startDeg,colorOf,sw){
  const pie=d3.pie().sort(null).value(d=>d[1]).startAngle(rad(startDeg)).endAngle(rad(startDeg+360));
  const arc=d3.arc().innerRadius(0).outerRadius(r);
  const g=svg.append("g").attr("transform",`translate(${cx},${cy})`);
  g.selectAll("path").data(pie(slices)).join("path").attr("d",arc).attr("fill",d=>colorOf(d.data[0])).attr("stroke","#000").attr("stroke-width",sw).attr("stroke-linejoin","round");
  return pie(slices);
}
const hapIdx=i=>[BLUE,GREEN,RED,YEL][i-1];
function leader(cx,cy,r,arcs,idx){const a=(arcs[idx].startAngle+arcs[idx].endAngle)/2;
  svg.append("line").attr("x1",cx+(r-2)*Math.sin(a)).attr("y1",cy-(r-2)*Math.cos(a)).attr("x2",cx+(r+5)*Math.sin(a)).attr("y2",cy-(r+5)*Math.cos(a)).attr("stroke","#000").attr("stroke-width",2);}
drawPie(1174.7,1272,100,pieWholeL,-3.3,hapIdx,2.5);
drawPie(1487,1272,99.5,pieWholeM,35,hapIdx,2.5);
drawPie(1177,1565,99.5,pieGengL,81,hapIdx,2.5);
{const a=drawPie(1489.6,1566.7,100,pieGengM,81,hapIdx,2.5);leader(1489.6,1566.7,100,a,0);leader(1489.6,1566.7,100,a,2);}
{const a=drawPie(1177,1863,103,pieXianL,81.5,hapIdx,2.5);[1,2,3].forEach(i=>leader(1177,1863,103,a,i));}
{const a=drawPie(1489.6,1866,99,pieXianM,81,hapIdx,2.5);[1,3].forEach(i=>leader(1489.6,1866,99,a,i));}
[[1146,1216.7,"13.9%"],[1229,1238,"19.7%"],[1179.6,1317,"62.7%","#fff"],[1479.7,1220,"27.0%","#fff"],[1551,1246.7,"12.9%"],[1441,1291,"23.6%"],[1520.7,1330.7,"36.6%","#fff"],
 [1161,1531.7,"60.3%"],[1240,1586.4,"12.5%","#fff"],[1185,1624.7,"27.2%"],[1097,1660.7,"0%"],[1519,1515,"33.2%"],[1388.7,1492.7,"2.4%"],[1471.8,1611.3,"63.9%"],[1621.6,1561,"0.5%"],
 [1161,1915.8,"89.3%","#fff"],[1483.6,1818.7,"45.5%"],[1361,1890,"1.6%"],[1498.5,1922,"50%","#fff"],[1285,1798.3,"3.1%"],[1303,1827,"6.7%"],[1311,1853,"0.9%"],[1618,1849,"2.9%"]
].forEach(d=>T(d[0],d[1],d[2],{size:20,fill:d[3]||"#000"}));
T(1171.6,1199,"3.7%",{size:20,fill:"#fff",rotate:90});
[[1408,813,653],[1709.8,257,205],[2002,450,374]].forEach(c=>{T(1183.6,c[0],nLab(c[1],"Landrace "),{size:23.5});T(1501,c[0],nLab(c[2],"Modern variety "),{size:23.5});});
[[1293,"Whole"],[1580.8,"Geng/"],[1613.5,"Japonica"],[1881,"Xian/"],[1913.5,"Indica"]].forEach(d=>T(964.6,d[0],d[1],{size:26.5,anchor:"start"}));
T(1605.7,1182.7,"Haplotype",{size:20,anchor:"start"});
[1207,1230,1253,1276].forEach((y,i)=>{svg.append("circle").attr("cx",1619).attr("cy",y).attr("r",7.5).attr("fill",hapColor(haplotypes[i]));T(1637,y+8,haplotypes[i],{size:20,anchor:"start"});});

// ---------- I ----------
const popColor=d3.scaleOrdinal(popNames,["#ff0000","#33cc33","#5e0078","#ffc800","#ff00c8","#a80000","#5500cc"]);
const nodes={"GID_1":{x:729.5,y:1809,r:99,s:gid1},"GID_2":{x:303.7,y:1778.5,r:87,s:gid2},"GID_3":{x:126.3,y:1918.6,r:58.5,s:gid3},"GID-4":{x:327.4,y:1591,r:36,s:gid4},"GID_5":{x:110.3,y:1600,r:42,s:gid5},"GID_6":{x:562.9,y:1631.8,r:17,s:gid6}};
const hatchAt=[.427,.346,.536,.579,.395,.6];
networkEdges.forEach((e,i)=>{
  const a=nodes[e[0]],b=nodes[e[1]],dx=b.x-a.x,dy=b.y-a.y,L=Math.hypot(dx,dy),ux=dx/L,uy=dy/L;
  svg.append("line").attr("x1",a.x).attr("y1",a.y).attr("x2",b.x).attr("y2",b.y).attr("stroke","#000").attr("stroke-width",2.5);
  const mx=a.x+dx*hatchAt[i],my=a.y+dy*hatchAt[i];
  d3.range(e[2]).forEach(k=>{const o=(k-(e[2]-1)/2)*5.6,px=mx+ux*o,py=my+uy*o;
    svg.append("line").attr("x1",px-uy*10).attr("y1",py+ux*10).attr("x2",px+uy*10).attr("y2",py-ux*10).attr("stroke","#000").attr("stroke-width",1.8);});
});
Object.values(nodes).forEach(n=>drawPie(n.x,n.y,n.r,n.s,90,popColor,n.r<20?1.8:2.5));
[[342.8,1521,"GID-4"],[86.6,1671,"GID_5 (Hap4)"],[557.5,1678,"GID_6"],[319,1898,"GID_2 (Hap1)"],[717,1937,"GID_1 (Hap2)"],[115.7,2005,"GID_3 (Hap3)"]].forEach(d=>T(d[0],d[1],d[2],{size:20}));
[[344,1543,227],[77.7,1698.8,306],[556.3,1704,46],[318,1929,1353],[717,1969,1748],[115.7,2036.7,597]].forEach(d=>T(d[0],d[1],nLab(d[2]),{size:20}));
[[1851.6,1861.4],[1878,1885.8],[1903.4,1912.6],[1929.9,1939],[1955.6,1964.4],[1981,1990.9],[2007.5,2017]].forEach((d,i)=>{
  svg.append("circle").attr("cx",444.8).attr("cy",d[0]).attr("r",10).attr("fill",popColor(popNames[i])).attr("stroke","#000").attr("stroke-width",2);
  T(460,d[1],popNames[i],{size:20,anchor:"start"});
});
</script></body></html>
